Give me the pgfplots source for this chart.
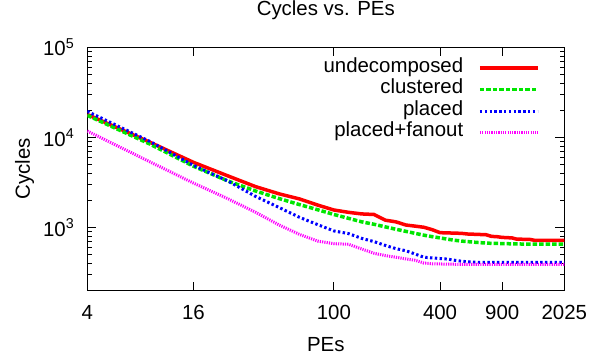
\documentclass[border=0pt]{standalone}
\usepackage{fontspec}
\setmainfont{Liberation Sans}
\usepackage{pgfplots}
\usepackage{pgfplotstable}
\pgfplotsset{compat=1.18}
\definecolor{cred}{RGB}{255,0,0}
\definecolor{cgreen}{RGB}{0,230,0}
\definecolor{cblue}{RGB}{0,0,255}
\definecolor{cmag}{RGB}{255,0,255}
\pgfplotstableread{
x red green blue mag
4 18000 17600 19500 11800
9 8900 8500 9100 5400
16 5300 4800 4900 3120
25 3760 3300 3300 2100
36 2850 2550 2220 1480
49 2370 2100 1670 1070
64 2080 1800 1300 840
81 1780 1580 1080 710
100 1570 1400 920 665
121 1480 1270 860 655
144 1420 1160 760 580
169 1400 1090 700 520
196 1210 1020 635 490
225 1160 960 585 470
256 1070 910 555 450
289 1040 865 510 435
324 1010 825 470 405
361 950 795 462 398
400 880 770 455 396
441 875 745 448 394
484 870 725 435 393
529 865 710 425 393
576 850 700 418 393
625 845 690 415 393
676 840 682 412 393
729 835 675 412 393
784 800 670 412 393
841 795 668 412 393
900 780 666 412 393
961 775 664 412 393
1024 770 662 412 393
1089 745 660 412 393
1156 745 659 412 393
1225 740 658 412 393
1296 740 657 412 393
1369 725 656 412 393
1444 722 655 412 393
1521 722 655 412 393
1600 722 655 412 393
1681 722 655 412 393
1764 722 655 412 393
1849 722 655 412 393
1936 722 655 412 393
2025 722 655 412 393
}\data
\begin{document}
\fontsize{20.5}{24}\selectfont
\begin{tikzpicture}
\begin{axis}[
  scale only axis, width=477bp, height=243.4bp,
  xmode=log, ymode=log,
  xmin=4, xmax=2025, ymin=200, ymax=100000,
  xtick={4,16,100,400,900,2025},
  xticklabels={4,16,100,400,900,2025},
  minor xtick={},
  ytick={1000,10000,100000},
  yticklabels={10\textsuperscript{3},10\textsuperscript{4},10\textsuperscript{5}},
  minor ytick={200,300,400,500,600,700,800,900,2000,3000,4000,5000,6000,7000,8000,9000,20000,30000,40000,50000,60000,70000,80000,90000},
  tick align=inside,
  major tick length=9bp, minor tick length=4.5bp,
  tick style={black, line width=1bp},
  axis line style={line width=1.2bp},
  xticklabel style={yshift=-8bp},
  yticklabel style={xshift=-6bp},
  title={Cycles vs. PEs},
  title style={at={(axis description cs:0.5,1.1294)}, anchor=center},
  xlabel={PEs},
  xlabel style={at={(axis description cs:0.5,-0.2218)}, anchor=center},
  ylabel={Cycles},
  ylabel style={at={(axis description cs:-0.1317,0.5)}, anchor=center, rotate=0},
  legend plot pos=right,
  legend cell align=right,
  legend image code/.code={\draw[#1] (0bp,0bp) -- (57.6bp,0bp);},
  legend style={draw=none, fill=none, inner sep=0pt, outer sep=0pt,
    at={(axis description cs:0.9476,0.959)}, anchor=north east,
    nodes={inner sep=0pt, text height=15bp, text depth=6.5bp},
    row sep=0pt,
    /tikz/every odd column/.append style={column sep=15bp}},
]
\addplot[cred, line width=3.5bp] table[x=x, y=red] {\data};
\addlegendentry{undecomposed}
\addplot[cgreen, line width=3.5bp, dash pattern=on 4.5bp off 2bp] table[x=x, y=green] {\data};
\addlegendentry{clustered}
\addplot[cblue, line width=3bp, dash pattern=on 2.4bp off 2.4bp] table[x=x, y=blue] {\data};
\addlegendentry{placed}
\addplot[cmag, line width=3bp, dash pattern=on 1.2bp off 1.1bp] table[x=x, y=mag] {\data};
\addlegendentry{placed+fanout}
\end{axis}
\pgfresetboundingbox
\path (current axis.south west) ++(-87.3bp,-67.3bp) rectangle ([xshift=42.7bp,yshift=47.3bp]current axis.north east);
\end{tikzpicture}
\end{document}
